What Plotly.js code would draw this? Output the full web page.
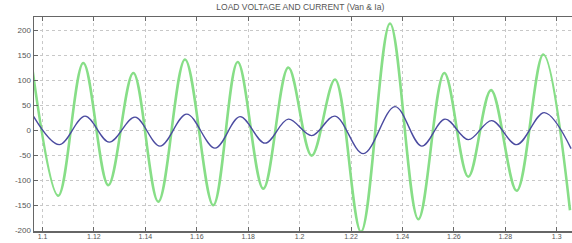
<!DOCTYPE html>
<html><head><meta charset="utf-8">
<script src="https://cdn.plot.ly/plotly-3.0.1.min.js"></script>
<style>html,body{margin:0;padding:0;background:#fff}#plot{width:572px;height:243px}</style>
</head><body><div id="plot"></div>
<script>
// Load voltage Van (extrema)
var vanTime = [1.0960, 1.10615, 1.11587, 1.12559, 1.13532, 1.14504, 1.15543, 1.16643, 1.17592, 1.18588, 1.19561, 1.20471, 1.21377, 1.22388, 1.23516, 1.24617, 1.25628, 1.26562, 1.27445, 1.28444, 1.29479, 1.30517];
var vanValue = [125, -131, 134, -110, 114, -143, 141, -150, 136, -117, 125, -51, 101, -203, 213, -178, 114, -93, 80, -121, 151, -160];
// Load current Ia (extrema)
var iaTime = [1.0962, 1.10653, 1.11653, 1.12598, 1.13598, 1.14570, 1.15609, 1.16709, 1.17682, 1.18654, 1.19561, 1.20471, 1.21377, 1.22478, 1.23711, 1.24749, 1.25655, 1.26562, 1.27472, 1.28444, 1.29518, 1.30560];
var iaValue = [30, -29, 28, -24, 26, -32, 32, -36, 27, -26, 22, -11, 28, -47, 47, -32, 22, -19, 19, -29, 35, -37];
var xTicks = [1.1, 1.12, 1.14, 1.16, 1.18, 1.2, 1.22, 1.24, 1.26, 1.28, 1.3];
var xTickText = ['1.1', '1.12', '1.14', '1.16', '1.18', '1.2', '1.22', '1.24', '1.26', '1.28', '1.3'];
var yTicks = [-200, -150, -100, -50, 0, 50, 100, 150, 200];
var yTickText = ['-200', '-150', '-100', '-50', '0', '50', '100', '150', '200'];

var traces = [
  {x: vanTime, y: vanValue, type: 'scatter', mode: 'lines', name: 'Van',
   line: {color: 'rgb(135,222,135)', width: 2.6, shape: 'spline', smoothing: 1}},
  {x: iaTime, y: iaValue, type: 'scatter', mode: 'lines', name: 'Ia',
   line: {color: 'rgb(75,75,160)', width: 1.4, shape: 'spline', smoothing: 1}}
];
var fam = 'Liberation Sans, Arial, sans-serif';
var layout = {
  width: 572, height: 243,
  margin: {l: 34, r: 0, t: 17, b: 12, pad: 0},
  paper_bgcolor: '#fff', plot_bgcolor: '#fff',
  showlegend: false,
  title: {text: 'LOAD VOLTAGE AND CURRENT (Van & Ia)', font: {family: fam, size: 8.5, color: '#555'},
          x: 0.525, xanchor: 'center', y: 0.972, yanchor: 'middle'},
  xaxis: {range: [1.09669, 1.30595], tickmode: 'array', tickvals: xTicks, ticktext: xTickText,
          ticks: 'inside', ticklen: 4, tickcolor: '#666', tickwidth: 1,
          showline: true, linecolor: '#666', linewidth: 1.5, mirror: 'ticks',
          showgrid: true, gridcolor: '#c8c8c8', griddash: 'dot', gridwidth: 1,
          zeroline: false, tickfont: {family: fam, size: 7, color: '#555'}, ticklabelstandoff: -2, automargin: false},
  yaxis: {range: [-201.5, 226], tickmode: 'array', tickvals: yTicks, ticktext: yTickText,
          ticks: 'inside', ticklen: 4, tickcolor: '#666', tickwidth: 1,
          showline: true, linecolor: '#666', linewidth: 1.5,
          showgrid: true, gridcolor: '#c8c8c8', griddash: 'dot', gridwidth: 1,
          zeroline: false, tickfont: {family: fam, size: 8, color: '#555'}, automargin: false}
};
Plotly.newPlot('plot', traces, layout, {staticPlot: true, displayModeBar: false});
</script></body></html>
